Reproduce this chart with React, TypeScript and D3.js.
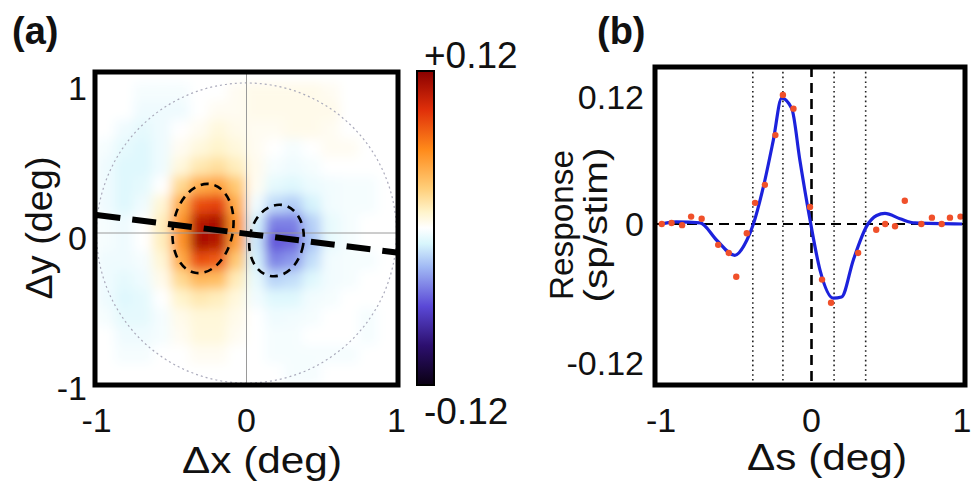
import React, { useEffect, useRef } from 'react';
import * as d3 from 'd3';

// ---- panel (a): spatial map, values in 0.01 sp/stim ----
// cell centres (deg), same for dx (columns) and dy (rows, top -> bottom)
const mapCentres = [-0.9375, -0.8125, -0.6875, -0.5625, -0.4375, -0.3125, -0.1875, -0.0625,
  0.0625, 0.1875, 0.3125, 0.4375, 0.5625, 0.6875, 0.8125, 0.9375];
const mapRows: number[][] = [
  [0, 0, -0.3, -0.3, -0.3, 0, 0, 0.3, 0.5, 0.5, 0.5, 0.5, 0.3, 0, 0, 0],
  [0, 0, -0.5, -0.5, -0.5, 0, 0.3, 0.3, 0.5, 0.5, 0.5, 0.5, 0.5, 0, 0, 0],
  [0, -0.5, -0.8, -0.5, 0, 0.3, 0.8, 0.5, 0.3, 0.3, 0.5, 0.5, 0.3, 0, 0, 0],
  [-0.3, -0.8, -1, -0.5, 0.3, 0.8, 1.2, 0.8, 0.3, 0, -0.3, 0, 0.3, 0.3, 0, 0],
  [-0.5, -1, -1, -0.5, 0.8, 1.8, 2.2, 1.5, 0.4, -0.3, -0.5, -0.3, 0, 0, 0, 0],
  [-0.5, -1, -0.8, 0, 2.5, 4.5, 5, 3.2, 0.3, -0.8, -1, -0.6, -0.4, -0.3, -0.3, 0],
  [-0.5, -1, -0.5, 1, 4.5, 8, 8.5, 4.5, -0.4, -2, -2.4, -1.3, -0.4, -0.3, -0.3, 0],
  [-0.3, -0.5, 0, 1.5, 5.5, 10.5, 11, 5.5, -1.3, -4.5, -4.5, -2.3, -0.7, -0.3, 0, 0],
  [-0.3, -0.5, 0, 1.5, 5.5, 11, 10.5, 5, -1.6, -5.6, -5.2, -2.6, -0.7, -0.3, 0, 0],
  [-0.5, -0.5, -0.3, 1, 4.5, 8, 7.5, 3.2, -1.3, -4.4, -3.8, -1.9, -0.4, -0.3, -0.3, 0],
  [-0.5, -0.8, -0.5, 0.5, 2.5, 4, 3.8, 1.6, -0.7, -2.2, -1.9, -1, -0.4, -0.3, 0, 0],
  [-0.5, -1, -0.8, 0, 1.2, 1.8, 1.5, 0.8, -0.4, -1, -1, -0.4, -0.3, 0, 0, 0],
  [-0.3, -0.8, -0.8, -0.3, 0.5, 0.9, 0.9, 0.5, 0, -0.5, -0.4, -0.3, 0, 0, -0.3, 0],
  [0, -0.5, -0.5, -0.3, 0.3, 0.8, 0.8, 0.3, 0, -0.3, -0.3, 0, 0, 0, -0.3, 0],
  [0, -0.3, -0.3, 0, 0, 0.3, 0.3, 0, 0, -0.3, -0.3, -0.3, -0.3, -0.3, 0, 0],
  [0, 0, 0, 0, 0, 0, 0, 0, 0, 0, -0.3, -0.3, 0, 0, 0, 0],
];

// fitted subfield outlines (ON / OFF)
const ellipseCx = [-0.29, 0.2];
const ellipseCy = [0.03, -0.05];
const ellipseRx = [0.2, 0.18];
const ellipseRy = [0.3, 0.24];
const ellipseTilt = [10, 10];

// preferred-orientation axis through the map
const axisLineX = [-1, 1];
const axisLineY = [0.12, -0.13];

const mapTicks = [-1, 0, 1];

// colour map
const cmapStops = [-0.12, -0.09, -0.06, -0.03, -0.012, 0, 0.012, 0.03, 0.06, 0.09, 0.12];
const cmapColors = ['#0a0012', '#2c0f6e', '#5a48d6', '#a0b8f4', '#d8f6fc', '#ffffff',
  '#fff4cc', '#ffcf7a', '#ff8a1a', '#e0300a', '#8a0000'];

// ---- panel (b): 1-D profile ----
const fitS = [-1.0, -0.9, -0.74, -0.63, -0.51, -0.43, -0.386, -0.32, -0.254, -0.198, -0.131, -0.077,
  -0.01, 0.057, 0.145, 0.2, 0.278, 0.366, 0.433, 0.488, 0.588, 0.688, 1.0];
const fitV = [0, 0.002, 0.001, -0.014, -0.027, -0.014, 0, 0.035, 0.079, 0.119, 0.109, 0.06,
  0.004, -0.04, -0.064, -0.063, -0.031, -0.002, 0.008, 0.01, 0.005, 0.001, 0];
const dotS = [-0.995, -0.93, -0.86, -0.8, -0.73, -0.62, -0.55, -0.5, -0.43, -0.375, -0.31, -0.24,
  -0.19, -0.12, -0.01, 0.07, 0.13, 0.31, 0.43, 0.49, 0.555, 0.62, 0.73, 0.8, 0.865, 0.92, 0.99];
const dotV = [0, 0.001, -0.001, 0.007, 0.005, -0.018, -0.025, -0.0455, -0.008, 0.02, 0.037, 0.084,
  0.122, 0.109, 0.016, -0.048, -0.068, -0.025, -0.005, 0, -0.002, 0.022, 0, 0.006, 0, 0.006, 0.007];
const dottedS = [-0.39, -0.19, 0.15, 0.36];
const profXTicks = [-1, 0, 1];
const profYTicks = [0.12, 0, -0.12];
const profYLabels = ['0.12', '0', '-0.12'];

const FONT = '"Liberation Sans", Arial, Helvetica, sans-serif';

const App = () => {
  const ref = useRef<SVGSVGElement>(null);

  useEffect(() => {
    const svg = d3.select(ref.current);
    svg.selectAll('*').remove();
    const defs = svg.append('defs');

    const color = d3.scaleLinear<string>().domain(cmapStops).range(cmapColors).clamp(true);

    // ===== panel (a) =====
    const A = { left: 95, top: 72, right: 398, bottom: 385 };
    const ax = d3.scaleLinear().domain([-1.01, 1.01]).range([A.left, A.right]);
    const ay = d3.scaleLinear().domain([-1.013, 1.073]).range([A.bottom, A.top]);

    defs.append('clipPath').attr('id', 'clipA')
      .append('rect')
      .attr('x', A.left).attr('y', A.top)
      .attr('width', A.right - A.left).attr('height', A.bottom - A.top);
    const blur = defs.append('filter').attr('id', 'soft')
      .attr('x', '-5%').attr('y', '-5%').attr('width', '110%').attr('height', '110%');
    blur.append('feGaussianBlur').attr('stdDeviation', 5.5);

    const half = (mapCentres[1] - mapCentres[0]) / 2;
    const cells = mapRows.flatMap((row, j) => row.map((v, i) => ({ cx: mapCentres[i], cy: -mapCentres[j], v: v / 100 })));

    const heat = svg.append('g').attr('clip-path', 'url(#clipA)')
      .append('g').attr('filter', 'url(#soft)');
    heat.selectAll('rect')
      .data(cells)
      .enter()
      .append('rect')
      .attr('x', d => ax(d.cx - half) - 0.5)
      .attr('y', d => ay(d.cy + half) - 0.5)
      .attr('width', d => ax(d.cx + half) - ax(d.cx - half) + 1)
      .attr('height', d => ay(d.cy - half) - ay(d.cy + half) + 1)
      .attr('fill', d => color(d.v));

    const gA = svg.append('g').attr('clip-path', 'url(#clipA)');
    // dotted unit circle
    gA.append('ellipse')
      .attr('cx', ax(0)).attr('cy', ay(0))
      .attr('rx', ax(1) - ax(0)).attr('ry', ay(0) - ay(1))
      .attr('fill', 'none').attr('stroke', '#aab')
      .attr('stroke-width', 1.2).attr('stroke-dasharray', '2,3');
    // cross-hair
    gA.append('line')
      .attr('x1', ax(0)).attr('x2', ax(0)).attr('y1', A.top).attr('y2', A.bottom)
      .attr('stroke', '#9a9a9a').attr('stroke-width', 1);
    gA.append('line')
      .attr('x1', A.left).attr('x2', A.right).attr('y1', ay(0)).attr('y2', ay(0))
      .attr('stroke', '#9a9a9a').attr('stroke-width', 1);

    // subfield outlines
    gA.selectAll('.sub')
      .data(ellipseCx.map((cx, i) => ({ cx, cy: ellipseCy[i], rx: ellipseRx[i], ry: ellipseRy[i], t: ellipseTilt[i] })))
      .enter()
      .append('ellipse')
      .attr('class', 'sub')
      .attr('cx', d => ax(d.cx)).attr('cy', d => ay(d.cy))
      .attr('rx', d => ax(d.rx) - ax(0)).attr('ry', d => ay(0) - ay(d.ry))
      .attr('transform', d => `rotate(${d.t} ${ax(d.cx)} ${ay(d.cy)})`)
      .attr('fill', 'none').attr('stroke', '#000')
      .attr('stroke-width', 2.6).attr('stroke-dasharray', '8,6');

    // axis line
    gA.append('line')
      .attr('x1', ax(axisLineX[0])).attr('y1', ay(axisLineY[0]))
      .attr('x2', ax(axisLineX[1])).attr('y2', ay(axisLineY[1]))
      .attr('stroke', '#000').attr('stroke-width', 6).attr('stroke-dasharray', '24,12');

    svg.append('rect')
      .attr('x', A.left).attr('y', A.top)
      .attr('width', A.right - A.left).attr('height', A.bottom - A.top)
      .attr('fill', 'none').attr('stroke', '#000').attr('stroke-width', 5);

    const text = (x: number, y: number, s: string, size: number, anchor = 'middle') =>
      svg.append('text')
        .attr('x', x).attr('y', y)
        .attr('text-anchor', anchor)
        .style('font-family', FONT)
        .style('font-size', `${size}px`)
        .attr('fill', '#111')
        .text(s);

    mapTicks.forEach(t => {
      text(ax(t), 432, String(t), 34);
      text(87, ay(t) + 5, String(t), 34, 'end').attr('dy', '0.36em');
    });
    text(262, 473, 'Δx (deg)', 37).attr('textLength', 160).attr('lengthAdjust', 'spacingAndGlyphs');
    svg.append('text')
      .attr('transform', `translate(52,228) rotate(-90)`)
      .attr('text-anchor', 'middle')
      .style('font-family', FONT).style('font-size', '37px').attr('fill', '#111')
      .attr('textLength', 143).attr('lengthAdjust', 'spacingAndGlyphs')
      .text('Δy (deg)');
    text(12, 44, '(a)', 38, 'start').style('font-weight', 'bold');

    // colour bar
    const C = { left: 417, top: 71, right: 434, bottom: 385 };
    const cy = d3.scaleLinear().domain([-0.12, 0.12]).range([C.bottom, C.top]);
    const grad = defs.append('linearGradient').attr('id', 'cbar')
      .attr('gradientUnits', 'userSpaceOnUse')
      .attr('x1', 0).attr('x2', 0).attr('y1', C.bottom).attr('y2', C.top);
    grad.selectAll('stop')
      .data(cmapStops)
      .enter()
      .append('stop')
      .attr('offset', d => (C.bottom - cy(d)) / (C.bottom - C.top))
      .attr('stop-color', d => color(d));
    svg.append('rect')
      .attr('x', C.left).attr('y', C.top)
      .attr('width', C.right - C.left).attr('height', C.bottom - C.top)
      .attr('fill', 'url(#cbar)').attr('stroke', '#000').attr('stroke-width', 2);
    text(424, 68, '+0.12', 37, 'start');
    text(424, 424, '-0.12', 37, 'start');

    // ===== panel (b) =====
    const B = { left: 655, top: 67, right: 965, bottom: 385 };
    const bx = d3.scaleLinear().domain([-1.04, 1.02]).range([B.left, B.right]);
    const by = d3.scaleLinear().domain([-0.12, 0, 0.12]).range([363, 224, 97]);

    const gB = svg.append('g');
    gB.selectAll('.dotted')
      .data(dottedS)
      .enter()
      .append('line')
      .attr('x1', d => bx(d)).attr('x2', d => bx(d))
      .attr('y1', B.top).attr('y2', B.bottom)
      .attr('stroke', '#222').attr('stroke-width', 1.6).attr('stroke-dasharray', '1.6,3.2');
    gB.append('line')
      .attr('x1', bx(0)).attr('x2', bx(0)).attr('y1', B.top).attr('y2', B.bottom)
      .attr('stroke', '#000').attr('stroke-width', 2.6).attr('stroke-dasharray', '10,6');
    gB.append('line')
      .attr('x1', B.left).attr('x2', B.right).attr('y1', by(0)).attr('y2', by(0))
      .attr('stroke', '#000').attr('stroke-width', 2.2).attr('stroke-dasharray', '10,6');

    const line = d3.line<number>()
      .x((d, i) => bx(fitS[i]))
      .y(d => by(d))
      .curve(d3.curveMonotoneX);
    gB.append('path')
      .attr('d', line(fitV))
      .attr('fill', 'none').attr('stroke', '#1c22dc').attr('stroke-width', 3.2)
      .attr('stroke-linejoin', 'round');

    gB.selectAll('.dot')
      .data(dotS.map((s, i) => ({ s, v: dotV[i] })))
      .enter()
      .append('circle')
      .attr('class', 'dot')
      .attr('cx', d => bx(d.s)).attr('cy', d => by(d.v))
      .attr('r', 3.2)
      .attr('fill', '#f0502a');

    svg.append('rect')
      .attr('x', B.left).attr('y', B.top)
      .attr('width', B.right - B.left).attr('height', B.bottom - B.top)
      .attr('fill', 'none').attr('stroke', '#000').attr('stroke-width', 5);

    profXTicks.forEach(t => text(bx(t), 432, String(t), 34));
    profYTicks.forEach((t, i) => text(644, by(t), profYLabels[i], 34, 'end').attr('dy', '0.36em'));
    text(827, 470, 'Δs (deg)', 37).attr('textLength', 160).attr('lengthAdjust', 'spacingAndGlyphs');
    svg.append('text')
      .attr('transform', `translate(573,225) rotate(-90)`)
      .attr('text-anchor', 'middle')
      .style('font-family', FONT).style('font-size', '34px').attr('fill', '#111')
      .attr('textLength', 150).attr('lengthAdjust', 'spacingAndGlyphs')
      .text('Response');
    svg.append('text')
      .attr('transform', `translate(607,225) rotate(-90)`)
      .attr('text-anchor', 'middle')
      .style('font-family', FONT).style('font-size', '34px').attr('fill', '#111')
      .attr('textLength', 155).attr('lengthAdjust', 'spacingAndGlyphs')
      .text('(sp/stim)');
    text(597, 44, '(b)', 38, 'start').style('font-weight', 'bold');
  }, []);

  return (
    <svg
      ref={ref}
      width={971}
      height={489}
      style={{ position: 'absolute', left: 0, top: 0, background: '#fff' }}
    />
  );
};

export default App;
